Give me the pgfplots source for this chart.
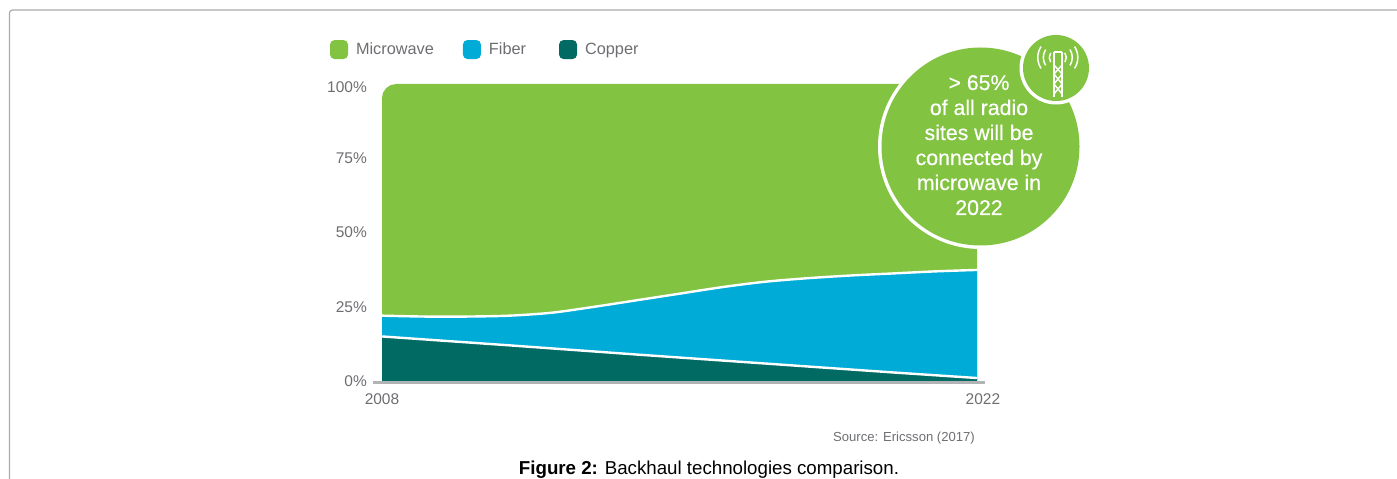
\documentclass[border=0pt]{standalone}
\usepackage{fontspec}
\setmainfont{Liberation Sans}
\newfontfamily\calloutfont[RawFeature={embolden=0.5}]{Liberation Sans}
\usepackage{pgfplots}
\pgfplotsset{compat=1.18}
\definecolor{mwgreen}{HTML}{82C341}
\definecolor{fibblue}{HTML}{00ACD7}
\definecolor{copgreen}{HTML}{006A63}
\definecolor{txtgrey}{HTML}{6D6E71}
\definecolor{basegrey}{HTML}{B1B3B4}
\definecolor{framegrey}{HTML}{ABABAB}
\newcommand{\fs}[1]{\fontsize{#1}{#1}\selectfont}
\begin{document}
\begin{tikzpicture}
\useasboundingbox (0,0) rectangle (1397pt,479pt);
\draw[framegrey,line width=1.2pt,rounded corners=3pt] (9.5pt,-1pt) -- (9.5pt,469pt) -- (1398pt,469pt);
\begin{axis}[
  at={(382pt,98pt)}, anchor=south west,
  scale only axis, width=603pt, height=297pt,
  xmin=2008, xmax=2022.188, ymin=0, ymax=100,
  clip=false,
  axis line style={draw=none},
  major tick length=0pt,
  xtick={2008,2022.14}, xticklabels={2008,2022},
  ytick={0,25,50,75,100}, yticklabels={0\%,25\%,50\%,75\%,\raisebox{-3pt}[\height][\depth]{100\%}},
  tick label style={font=\fs{15.5},text=txtgrey,inner sep=0pt},
  xticklabel style={yshift=-12pt},
  yticklabel style={xshift=-15pt},
  legend columns=3,
  legend cell align=left,
  legend image code/.code={\draw[#1,draw=none,rounded corners=4.5pt] (0pt,-9.5pt) rectangle (18pt,9.5pt);\path (24pt,0pt);},
  legend style={at={(-0.0862,1.116)},anchor=west,draw=none,fill=none,inner sep=0pt,outer sep=0pt,
    font=\fs{16.3},text=txtgrey,
    /tikz/column 2/.style={column sep=27pt},
    /tikz/column 4/.style={column sep=31pt}},
]
\addplot[fill=mwgreen,draw=none] coordinates {
  (2008,0)(2008,95.3)(2008.025,97.1)(2008.097,98.6)(2008.204,99.64)(2008.33,100)(2022,100)(2022,0)
} \closedcycle;
\addlegendentry{Microwave}
\addplot[fill=fibblue,draw=none] coordinates {
  (2008,22)(2009,21.7)(2010,21.7)(2011,22)(2012,23)(2013,25)(2014,27.2)(2015,29.4)
  (2016,31.6)(2017,33.4)(2018,34.6)(2019,35.5)(2020,36.2)(2021,36.9)(2022,37.4)
} \closedcycle;
\addlegendentry{Fiber}
\addplot[fill=copgreen,draw=none] coordinates {
  (2008,15)(2011,12)(2014,8.9)(2017,5.9)(2020,2.9)(2022,1.0)
} \closedcycle;
\addlegendentry{Copper}
% white separators
\addplot[forget plot,white,line width=2.4pt,smooth] coordinates {
  (2008,22)(2009,21.7)(2010,21.7)(2011,22)(2012,23)(2013,25)(2014,27.2)(2015,29.4)
  (2016,31.6)(2017,33.4)(2018,34.6)(2019,35.5)(2020,36.2)(2021,36.9)(2022,37.4)
};
\addplot[forget plot,white,line width=2.4pt] coordinates {
  (2008,15)(2011,12)(2014,8.9)(2017,5.9)(2020,2.9)(2022,1.0)
};
% baseline
\addplot[forget plot,basegrey,line width=2.4pt] coordinates {(2007.788,-0.5)(2022.188,-0.5)};
\end{axis}
\begin{scope}[x=1pt,y=-1pt,shift={(0pt,479pt)}]
  % callout
  \fill[white] (980.5,146.5) circle (102.5);
  \fill[mwgreen] (980.5,146.5) circle (99);
  \fill[white] (1056,68) circle (36.5);
  \fill[mwgreen] (1056,68) circle (33);
  % tower
  \begin{scope}[white,line width=1.8pt]
    \draw (1054,52) -- (1054,97) (1062,52) -- (1062,97) (1054,52) -- (1062,52);
    \draw[line width=1.4pt] (1054,65) -- (1062,74) -- (1054,84) -- (1062,94);
    \draw[line width=1.4pt] (1062,65) -- (1054,74) -- (1062,84) -- (1054,94);
    \foreach \r in {8.5,14.5,20} {
      \draw[line width=1.5pt] ([shift={(147:\r)}]1057.8,57.5) arc[start angle=147,end angle=213,radius=\r];
      \draw[line width=1.5pt] ([shift={(-33:\r)}]1057.8,57.5) arc[start angle=-33,end angle=33,radius=\r];
    }
  \end{scope}
  \begin{scope}[every node/.style={white,anchor=base,inner sep=0pt,font=\calloutfont\fs{21.3}}]
    \node at (979,90) {> 65\%};
    \node at (979,115) {of all radio};
    \node at (979,140) {sites will be};
    \node at (979,165) {connected by};
    \node at (979,190) {microwave in};
    \node at (979,215) {2022};
  \end{scope}
  \node[txtgrey,font=\fs{13.1}] at (904,438) {Source: Ericsson (2017)};
  \node[black,font=\fs{18.7}] at (709,470) {\textbf{Figure 2:} Backhaul technologies comparison.};
\end{scope}
\end{tikzpicture}
\end{document}
